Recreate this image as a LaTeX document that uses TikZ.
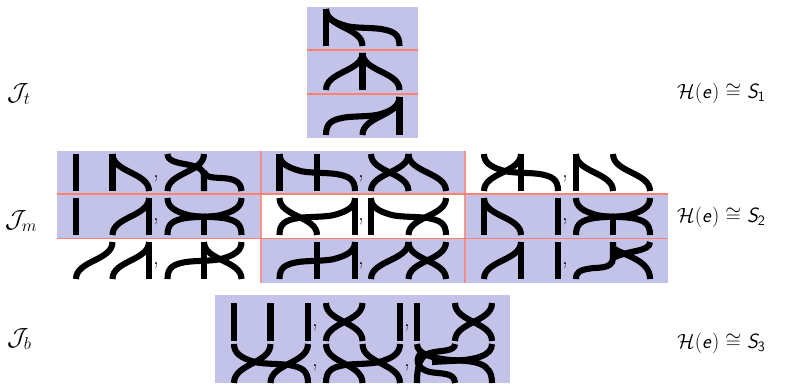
\documentclass[tikz,border=0pt]{standalone}
\DeclareMathAlphabet{\mathslss}{OT1}{cmss}{m}{sl}
\DeclareMathAlphabet{\mathupss}{OT1}{cmss}{m}{n}
\definecolor{tilefill}{HTML}{C3C3EA}
\definecolor{seam}{HTML}{FF8270}
\tikzset{
  strand/.style={line width=6.1bp,black},
  seamline/.style={line width=1.3bp,seam},
  lbl/.style={inner sep=0pt,anchor=west,font=\fontsize{20}{24}\selectfont},
  jlbl/.style={inner sep=0pt,anchor=west,font=\fontsize{25}{30}\selectfont},
  comma/.style={inner sep=0pt,font=\fontsize{23}{28}\selectfont},
}
\newcommand\tl[5]{\def\Xa{#1}\def\Xb{#2}\def\Xc{#3}\def\Yt{#4}\def\Yb{#5}%
  \pgfmathsetmacro\Yn{#4+0.5*(#5-#4)}\pgfmathsetmacro\Ym{#4+0.5*(#5-#4)}}
\newcommand\V[1]{\draw[strand] (#1,\Yt) -- (#1,\Yb);}
\newcommand\N[2]{\draw[strand] (#1,\Yt) .. controls (#1,\Yn) and (#2,\Ym) .. (#2,\Yb);}
\newcommand\Fp[2]{({\fa+#1*(\fb-\fa)},{\Yt+#2*(\Yb-\Yt)})}
\newcommand\F[2]{\def\fa{#1}\def\fb{#2}\draw[strand] (#1,\Yt)
  .. controls \Fp{0}{.22} and \Fp{.08}{.36} .. \Fp{.3}{.47}
  .. controls \Fp{.45}{.52} and \Fp{.6}{.5} .. \Fp{.75}{.54}
  .. controls \Fp{.92}{.6} and \Fp{1}{.68} .. (#2,\Yb);}
\begin{document}
\begin{tikzpicture}[x=1bp,y=-1bp]
\useasboundingbox (0,0) rectangle (793,383);
% backgrounds
\fill[tilefill] (307,7) rectangle (418,138);
\fill[tilefill] (57,151) rectangle (261,238.5);
\fill[tilefill] (261,151) rectangle (465,194);
\fill[tilefill] (261,238.5) rectangle (465,283);
\fill[tilefill] (465,194) rectangle (668,283);
\fill[tilefill] (215,295) rectangle (510,383);
% top stack
\tl{326}{362.5}{399.5}{9}{46}\V\Xa \N\Xa\Xb \F\Xa\Xc
\tl{326}{362.5}{399.5}{53}{90}\V\Xb \N\Xb\Xa \N\Xb\Xc
\tl{326}{362.5}{399.5}{97}{135}\V\Xc \N\Xc\Xb \F\Xc\Xa
% middle col 1
\tl{76}{112.5}{149}{154}{191}\V\Xa \V\Xb \N\Xb\Xc
\tl{167.5}{204}{241.5}{154}{191}\N\Xb\Xa
\draw[strand] (167.5,154) .. controls (167.5,168) and (204,160) .. (204,176) -- (204,191);
\draw[strand] (204,172) .. controls (207,184) and (240,170) .. (241.5,191);
\tl{76}{112.5}{149}{198}{235}\V\Xa \V\Xc \N\Xc\Xb
\tl{167.5}{204}{241.5}{198}{235}\F\Xa\Xc \F\Xc\Xa
\draw[strand] (204,216) -- (204,235);
\tl{76}{112.5}{149}{242}{279}\N\Xb\Xa \V\Xc \N\Xc\Xb
\tl{167.5}{204}{241.5}{242}{279}\V\Xb \N\Xb\Xc \F\Xc\Xa
% middle col 2
\tl{279.5}{317}{355}{154}{191}\V\Xa \F\Xa\Xc \V\Xb
\tl{371}{408.5}{446}{154}{191}\N\Xa\Xb \N\Xb\Xa \N\Xb\Xc
\tl{279.5}{317}{355}{198}{235}\N\Xa\Xb \F\Xc\Xa \V\Xc
\tl{371}{408.5}{446}{198}{235}\V\Xa \F\Xa\Xc \N\Xc\Xb
\tl{279.5}{317}{355}{242}{279}\V\Xb \V\Xc \F\Xc\Xa
\tl{371}{408.5}{446}{242}{279}\N\Xb\Xa \N\Xb\Xc \N\Xc\Xb
% middle col 3
\tl{484}{521}{558}{154}{191}\F\Xa\Xc \V\Xb \N\Xb\Xa
\tl{576}{613}{650}{154}{191}\V\Xa \N\Xa\Xb \N\Xb\Xc
\tl{484}{521}{558}{198}{235}\V\Xa \N\Xa\Xb \V\Xc
\tl{576}{613}{650}{198}{235}\F\Xa\Xc \F\Xc\Xa
\draw[strand] (613,214) -- (613,235);
\tl{484}{521}{558}{242}{279}\N\Xb\Xa \V\Xb \V\Xc
\draw[strand] (613,242) -- (613,258) .. controls (613,270) and (595,267) .. (590,268.5) .. controls (580,270) and (576,272) .. (576,279);
\draw[strand] (650,242) .. controls (650,252) and (628,250) .. (613,258);
\draw[strand] (613,248) .. controls (625,256) and (650,260) .. (650,279);
% bottom upper
\tl{234}{270.5}{308}{303}{341}\V\Xa \V\Xb \V\Xc
\tl{326}{362.5}{400}{303}{341}\N\Xa\Xb \N\Xb\Xa \V\Xc
\tl{417}{455}{492}{303}{341}\V\Xa \N\Xb\Xc \N\Xc\Xb
% bottom lower
\tl{234}{270.5}{308}{344}{383}\F\Xa\Xc \N\Xb\Xa \N\Xc\Xb
\tl{326}{362.5}{400}{344}{383}\N\Xa\Xb \N\Xb\Xc \F\Xc\Xa
% third lower tile, with its small loop
\draw[strand] (417,344) .. controls (417,354) and (432,358) .. (450,360) .. controls (475,361) and (492,362) .. (492,383);
\draw[strand] (492,344) .. controls (492,356) and (475,360) .. (450,361) -- (432,362);
\draw[strand] (455,344) .. controls (455,352) and (440,350) .. (430,353) .. controls (420,356) and (417,365) .. (417,383);
\draw[strand] (455,383) .. controls (455,372) and (440,374) .. (430,372) .. controls (420,370) and (414,362) .. (420,354);
% seams
\draw[seamline] (307,50) -- (418,50);
\draw[seamline] (307,94) -- (418,94);
\draw[seamline] (57,194) -- (668,194);
\draw[seamline] (57,238.5) -- (668,238.5);
\draw[seamline,opacity=.8] (261,151) -- (261,283);
\draw[seamline,opacity=.8] (465,151) -- (465,283);
% commas
\foreach \cx/\cy [count=\ci] in {156/179,156/222,156/266,361/179,361/222,361/266,565/179,565/222,565/266,315/328,315/368,407/328,407/368}
  \node[comma] (c\ci) at (\cx,\cy) {,};
% labels
\node[jlbl] (jt) at (7,94) {$\mathcal{J}_{t}$};
\node[jlbl] (jm) at (5,221) {$\mathcal{J}_{m}$};
\node[jlbl] (jb) at (7,339) {$\mathcal{J}_{b}$};
\node[lbl] (h1) at (677,93) {$\mathcal{H}(\mathslss{e})\cong\mathslss{S}_{\mathupss{1}}$};
\node[lbl] (h2) at (677,217) {$\mathcal{H}(\mathslss{e})\cong\mathslss{S}_{\mathupss{2}}$};
\node[lbl] (h3) at (677,343) {$\mathcal{H}(\mathslss{e})\cong\mathslss{S}_{\mathupss{3}}$};
\end{tikzpicture}
\end{document}
